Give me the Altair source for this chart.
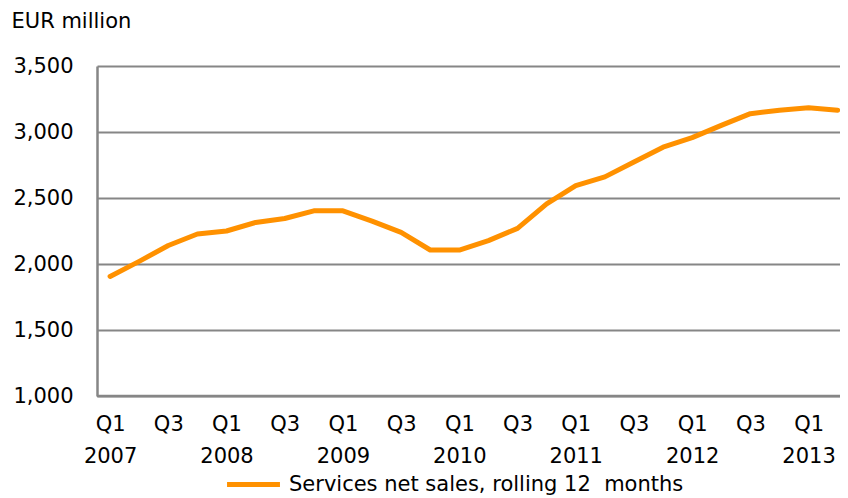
import altair as alt
import pandas as pd

quarters = ["Q1", "Q2", "Q3", "Q4"] * 6 + ["Q1", "Q2"]
years = [y for y in range(2007, 2013) for _ in range(4)] + [2013, 2013]
values = [1906, 2020, 2140, 2227, 2250, 2315, 2345, 2403, 2403, 2325,
          2240, 2106, 2106, 2177, 2270, 2455, 2593, 2660, 2773, 2885,
          2957, 3050, 3139, 3165, 3184, 3165]
series_name = "Services net sales, rolling 12\u00a0 months"

df = pd.DataFrame({
    "idx": list(range(len(values))),
    "quarter": quarters,
    "year": years,
    "value": values,
    "series": series_name,
})

# label expression: Q1 -> ["Q1", year], Q3 -> "Q3"
label_items = []
for i, (q, y) in enumerate(zip(quarters, years)):
    if i % 2 == 0:
        if q == "Q1":
            label_items.append(f"['{q}','{y}']")
        else:
            label_items.append(f"'{q}'")
label_expr = "[" + ",".join(label_items) + "][round(datum.value/2)]"

FONT = "DejaVu Sans"
FS = 21
ORANGE = "#FF9100"
GRAY = "#868686"

chart = alt.Chart(df).mark_line(strokeWidth=5, strokeCap="round", strokeJoin="round").encode(
    x=alt.X("idx:Q",
            scale=alt.Scale(domain=[-0.45, 25.08], nice=False, zero=False),
            axis=alt.Axis(values=list(range(0, 26, 2)), labelExpr=label_expr, title=None,
                          grid=False, ticks=False, domain=False, labelPadding=17,
                          labelFontSize=FS, labelFont=FONT, labelColor="black",
                          labelLineHeight=32, labelBaseline="top", labelFlush=False,
                          labelOverlap=False)),
    y=alt.Y("value:Q",
            scale=alt.Scale(domain=[1000, 3500], nice=False, zero=False),
            axis=alt.Axis(values=[1000, 1500, 2000, 2500, 3000, 3500], format=",.0f",
                          grid=True, gridColor=GRAY, gridWidth=2, ticks=False,
                          domain=True, domainColor=GRAY, domainWidth=2.5,
                          labelPadding=24, labelFontSize=FS, labelFont=FONT,
                          labelColor="black",
                          title="EUR million", titleAngle=0, titleAlign="left",
                          titleBaseline="middle", titleX=-86, titleY=-45,
                          titleFont=FONT, titleFontSize=FS, titleFontWeight="normal",
                          titleColor="black")),
    color=alt.Color("series:N",
                    scale=alt.Scale(domain=[series_name], range=[ORANGE]),
                    legend=alt.Legend(title=None, orient="none", legendX=146, legendY=408,
                                      symbolType="M-4,0L4,0", symbolSize=175,
                                      symbolStrokeWidth=5, labelFont=FONT,
                                      labelFontSize=FS, labelColor="black",
                                      labelOffset=25, labelLimit=0, padding=0)),
)

baseline = alt.Chart(pd.DataFrame({"v": [1000]})).mark_rule(color=GRAY, strokeWidth=2.5).encode(
    y=alt.Y("v:Q", scale=alt.Scale(domain=[1000, 3500], nice=False, zero=False))
)

final = alt.layer(baseline, chart).properties(
    width=743, height=330, autosize="none",
    padding={"left": 89, "top": 58, "right": 0, "bottom": 99},
).configure_view(stroke=None)

final.save("out.html", embed_options={"renderer": "svg", "actions": False})
